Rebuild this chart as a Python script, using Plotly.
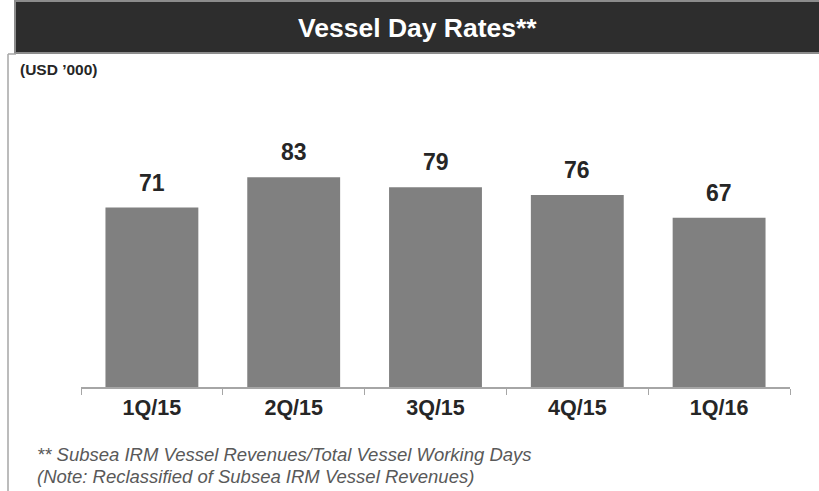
import plotly.graph_objects as go

quarters = ["1Q/15", "2Q/15", "3Q/15", "4Q/15", "1Q/16"]
day_rates = [71, 83, 79, 76, 67]

title_text = "Vessel Day Rates**"
unit_text = "(USD ’000)"
foot_lines = ["** Subsea IRM Vessel Revenues/Total Vessel Working Days",
              "(Note: Reclassified of Subsea IRM Vessel Revenues)"]

W, H = 819, 491
L, R, T, B = 81, 29, 109, 104  # plot area edges in px
pw, ph = W - L - R, H - T - B
FONT = "Liberation Sans, Arial, sans-serif"


def px_x(x):
    return (x - L) / pw


def px_y(y):
    return (H - B - y) / ph


fig = go.Figure(go.Bar(
    x=quarters, y=day_rates,
    marker_color="#808080", marker_line_width=0,
))

shapes = [
    # header box
    dict(type="rect", xref="paper", yref="paper",
         x0=px_x(15), x1=px_x(821), y0=px_y(53), y1=px_y(1),
         fillcolor="#2d2d2d", line=dict(color="#8c8c8c", width=2), layer="below"),
    # frame of the panel
    dict(type="line", xref="paper", yref="paper",
         x0=px_x(8), x1=px_x(8), y0=px_y(54), y1=px_y(492),
         line=dict(color="#a6a6a6", width=1.5)),
    dict(type="line", xref="paper", yref="paper",
         x0=px_x(8), x1=px_x(16), y0=px_y(54), y1=px_y(54),
         line=dict(color="#a6a6a6", width=1.5)),
]

annotations = [
    dict(text="<b>" + title_text + "</b>", xref="paper", yref="paper",
         x=px_x(417), y=px_y(28), xanchor="center", yanchor="middle", showarrow=False,
         font=dict(family=FONT, size=26.5, color="white")),
    dict(text="<b>" + unit_text + "</b>", xref="paper", yref="paper",
         x=px_x(18), y=px_y(69), xanchor="left", yanchor="middle", showarrow=False,
         font=dict(family=FONT, size=15.5, color="#262626")),
]
for i, line in enumerate(foot_lines):
    annotations.append(dict(
        text="<i>" + line + "</i>", xref="paper", yref="paper",
        x=px_x(35), y=px_y(454 + 22 * i), xanchor="left", yanchor="middle",
        showarrow=False, font=dict(family=FONT, size=18.5, color="#595959")))

# value labels above the bars
for q, v in zip(quarters, day_rates):
    annotations.append(dict(
        text="<b>%d</b>" % v, x=q, y=v, xref="x", yref="y",
        yanchor="bottom", yshift=10, showarrow=False,
        font=dict(family=FONT, size=23, color="#262626")))

fig.update_layout(
    width=W, height=H,
    margin=dict(l=L, r=R, t=T, b=B),
    paper_bgcolor="white", plot_bgcolor="white",
    bargap=0.345, showlegend=False,
    shapes=shapes, annotations=annotations,
)
fig.update_xaxes(
    showline=True, linecolor="#a6a6a6", linewidth=1.5,
    ticks="outside", tickson="boundaries", ticklen=6, tickcolor="#a6a6a6",
    tickfont=dict(family=FONT, size=21.5, color="#262626"),
    tickprefix="<b>", ticksuffix="</b>", showgrid=False,
)
fig.update_yaxes(range=[0, 110], visible=False, showgrid=False)

fig.write_html("out.html", config={"displayModeBar": False},
               post_script="document.body.style.margin='0';")
